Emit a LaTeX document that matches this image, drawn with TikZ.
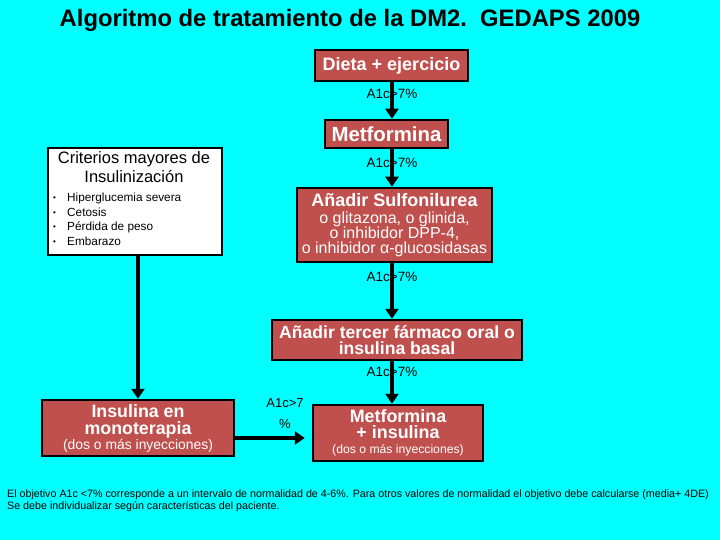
\documentclass[tikz,border=0pt]{standalone}
\usepackage{fontspec}
\setmainfont{Liberation Sans}
\usetikzlibrary{arrows.meta}
\definecolor{bg}{RGB}{0,255,255}
\definecolor{boxred}{RGB}{192,80,77}
\newcommand{\fsz}[2]{\fontsize{#1}{#2}\selectfont}
\begin{document}
\begin{tikzpicture}[x=1pt,y=-1pt,
  redbox/.style={draw=black, line width=2.5pt, fill=boxred, text=white, align=center, inner sep=0pt},
  whitebox/.style={draw=black, line width=2.5pt, fill=white, text=black, inner sep=0pt},
  lbl/.style={font=\fsz{13.5}{14}, inner sep=0pt, align=center},
  arr/.style={-{Triangle[width=13pt,length=10pt]}, line width=3.5pt}]
\fill[bg] (0,0) rectangle (720,540);
\useasboundingbox (0,0) rectangle (720,540);

\node[font=\fsz{23.8}{26}\bfseries, inner sep=0pt] (title) at (350,20) {Algoritmo de tratamiento de la DM2.\ \ GEDAPS 2009};

\node[redbox, minimum width=153pt, minimum height=31pt, font=\fsz{18}{20}\bfseries] (dieta) at (391.5,65.5) {Dieta + ejercicio};
\node[lbl] (l1) at (392,94) {A1c>7\%};
\node[redbox, minimum width=123pt, minimum height=28pt, font=\fsz{20.4}{22}\bfseries] (metf) at (386.5,134) {Metformina};
\node[lbl] (l2) at (392,163) {A1c>7\%};
\node[redbox, minimum width=195pt, minimum height=74pt, font=\fsz{16}{15}] (sulf) at (394.5,225)
  {{\fsz{18}{15}\bfseries Añadir Sulfonilurea}\\[1.5pt]
   o glitazona, o glinida,\\
   o inhibidor DPP-4,\\
   o inhibidor α-glucosidasas};
\node[lbl] (l3) at (392,277) {A1c>7\%};
\node[redbox, minimum width=250pt, minimum height=40pt, font=\fsz{17.6}{16.5}\bfseries] (tercer) at (397,340)
  {Añadir tercer fármaco oral o\\insulina basal};
\node[lbl] (l4) at (392,372) {A1c>7\%};
\node[redbox, minimum width=170pt, minimum height=56pt, font=\fsz{17.9}{16.5}\bfseries] (metins) at (398,433)
  {Metformina\\
   + insulina\\[-1.5pt]
   {\fsz{12.2}{16.5}\mdseries (dos o más inyecciones)}};

\node[whitebox, minimum width=174pt, minimum height=107pt] (crit) at (135,201.5) {};
\node[font=\fsz{16.5}{19}, align=center, inner sep=0pt] (crittitle) at (134,167.5) {Criterios mayores de\\Insulinización};
\node[font=\fsz{11.8}{14.5}, align=left, anchor=north west, inner sep=0pt] (critlist) at (53,193)
  {\rlap{\raisebox{1pt}{\fsz{8}{8}\textbullet}}\hspace{14pt}Hiperglucemia severa\\
   \rlap{\raisebox{1pt}{\fsz{8}{8}\textbullet}}\hspace{14pt}Cetosis\\
   \rlap{\raisebox{1pt}{\fsz{8}{8}\textbullet}}\hspace{14pt}Pérdida de peso\\
   \rlap{\raisebox{1pt}{\fsz{8}{8}\textbullet}}\hspace{14pt}Embarazo};

\node[redbox, minimum width=192pt, minimum height=56pt, font=\fsz{17.8}{17}\bfseries] (insmono) at (138,428)
  {Insulina en\\
   monoterapia\\[-2pt]
   {\fsz{13.9}{17}\mdseries (dos o más inyecciones)}};

\node[lbl, font=\fsz{13}{21}] (l5) at (285,414) {A1c>7\\\%};

\node[font=\fsz{10.7}{12}, align=left, anchor=north west, inner sep=0pt] (foot) at (7,490)
  {El objetivo A1c <7\% corresponde a un intervalo de normalidad de 4-6\%. Para otros valores de normalidad el objetivo debe calcularse (media+ 4DE)\\
   Se debe individualizar según características del paciente.};

\draw[arr] (dieta.south -| l1) -- (metf.north -| l1);
\draw[arr] (metf.south -| l2) -- (sulf.north -| l2);
\draw[arr] (sulf.south -| l3) -- (tercer.north -| l3);
\draw[arr] (tercer.south -| l4) -- (metins.north -| l4);
\draw[arr] (crit.south -| insmono) -- (insmono.north);
\coordinate (hy) at (0,438);
\draw[arr] (insmono.east |- hy) -- ([xshift=-7pt]metins.west |- hy);
\end{tikzpicture}
\end{document}
